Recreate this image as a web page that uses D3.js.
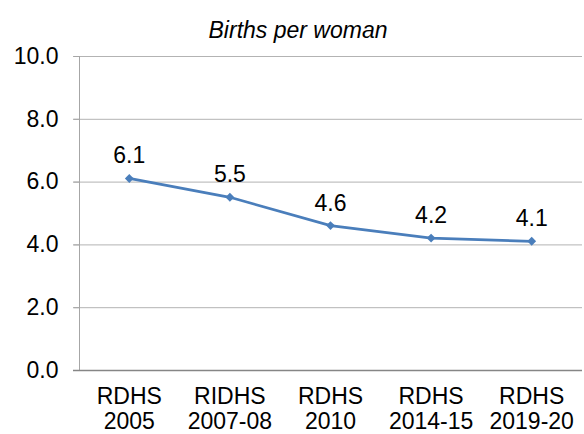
<!DOCTYPE html>
<html><head><meta charset="utf-8">
<script src="https://cdn.jsdelivr.net/npm/d3@7"></script>
<style>body{margin:0;background:#fff}svg{display:block}</style>
</head><body>
<svg id="c" width="584" height="434"></svg>
<script>
const categories = [["RDHS","2005"],["RIDHS","2007-08"],["RDHS","2010"],["RDHS","2014-15"],["RDHS","2019-20"]];
const values = [6.1, 5.5, 4.6, 4.2, 4.1];
const yTicks = [0, 2, 4, 6, 8, 10];
const title = "Births per woman";

const svg = d3.select("#c");
const m = {l:79, r:2, t:56, b:64};
const W = 584, H = 434;
const x = d3.scaleBand().domain(d3.range(categories.length)).range([m.l, W-m.r]);
const y = d3.scaleLinear().domain([0,10]).range([H-m.b, m.t]);
const font = "'Liberation Sans', Arial, sans-serif";
const fs = 23;

// gridlines
svg.append("g").selectAll("line").data(yTicks.filter(d=>d>0)).join("line")
  .attr("x1", m.l-6).attr("x2", W-m.r)
  .attr("y1", d=>y(d)+0.5).attr("y2", d=>y(d)+0.5)
  .attr("stroke", "#b3b3b3").attr("stroke-width", 1);

// y axis
const ya = svg.append("g").attr("transform", `translate(${m.l+0.5},0)`)
  .call(d3.axisLeft(y).tickValues(yTicks).tickSize(6).tickPadding(15).tickFormat(d3.format(".1f")));
ya.attr("font-size", null).attr("font-family", null);
ya.select(".domain").attr("stroke", "#a6a6a6").attr("d", `M0,${y(10)}V${y(0)}`);
ya.selectAll(".tick line").attr("stroke", "#a6a6a6");
ya.selectAll("text").style("font-family", font).style("font-size", fs+"px").attr("fill", "#000");

// x axis
svg.append("line").attr("x1", m.l-6).attr("x2", W-m.r)
  .attr("y1", y(0)+0.5).attr("y2", y(0)+0.5).attr("stroke", "#868686").attr("stroke-width", 1.5);

const xl = svg.append("g").selectAll("text").data(categories).join("text")
  .attr("x", (d,i)=>x(i)+x.bandwidth()/2).attr("y", 404)
  .attr("text-anchor", "middle").style("font-family", font).style("font-size", fs+"px").attr("fill", "#000");
xl.append("tspan").text(d=>d[0]);
xl.append("tspan").attr("x", (d,i)=>x(i)+x.bandwidth()/2).attr("dy", 25).text(d=>d[1]);

// line
const line = d3.line().x((d,i)=>x(i)+x.bandwidth()/2).y(d=>y(d));
svg.append("path").datum(values).attr("d", line).attr("fill", "none")
  .attr("stroke", "#4a7ebb").attr("stroke-width", 2.75);

svg.append("g").selectAll("path").data(values).join("path")
  .attr("transform", (d,i)=>`translate(${x(i)+x.bandwidth()/2},${y(d)})`)
  .attr("d", d3.symbol(d3.symbolDiamond2, 50))
  .attr("fill", "#4a7ebb");

svg.append("g").selectAll("text").data(values).join("text")
  .attr("x", (d,i)=>x(i)+x.bandwidth()/2).attr("y", d=>y(d)-15)
  .attr("text-anchor", "middle").style("font-family", font).style("font-size", fs+"px").attr("fill", "#000")
  .text(d=>d3.format(".1f")(d));

svg.append("text").attr("x", 298).attr("y", 38).attr("text-anchor", "middle")
  .style("font-family", font).style("font-size", "23px").attr("font-style", "italic").text(title);
</script>
</body></html>
